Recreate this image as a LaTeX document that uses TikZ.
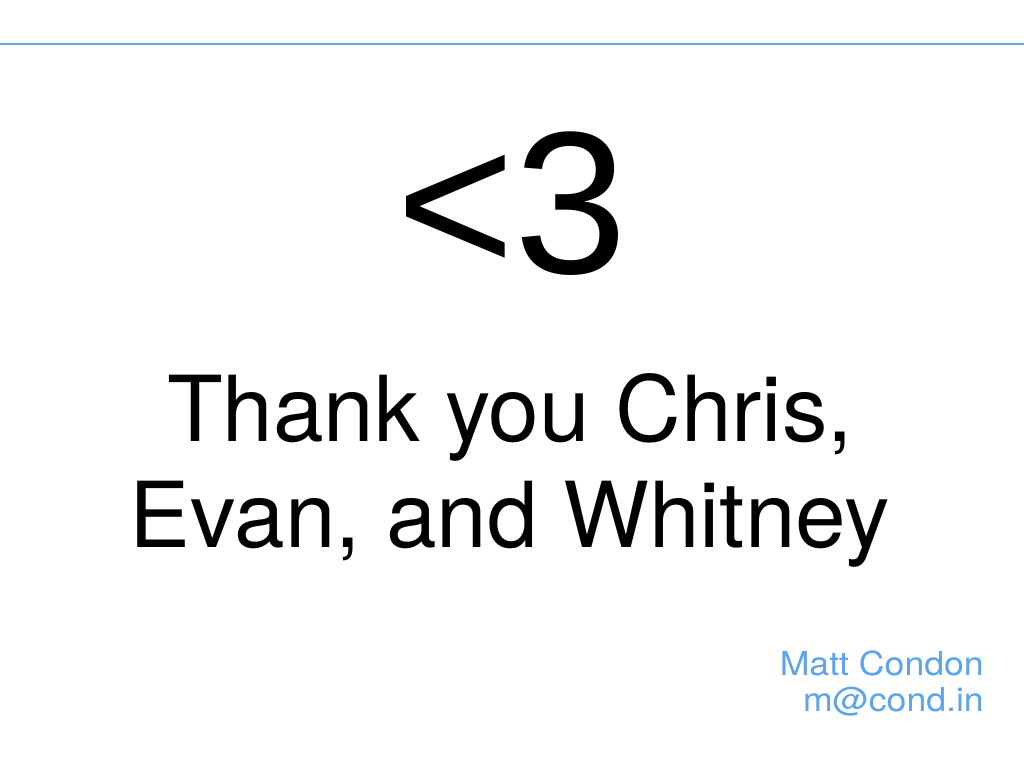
\documentclass[tikz,border=0pt]{standalone}
\usepackage{fontspec}
\setmainfont{TeX Gyre Heros}
\newfontfamily\heartfont{Liberation Sans}
\newfontfamily\sigfont[FakeStretch=1.08]{TeX Gyre Heros}
\definecolor{rulecol}{RGB}{106,166,216}
\definecolor{sigblue}{RGB}{92,164,236}
\begin{document}
\begin{tikzpicture}[x=1pt,y=1pt,
  bigtext/.style={inner sep=0pt,anchor=base,font=\heartfont\fontsize{203}{203}\selectfont},
  thanks/.style={inner sep=0pt,anchor=base,font=\fontsize{91}{91}\selectfont},
  sig/.style={inner sep=0pt,anchor=base east,text=sigblue,font=\sigfont\fontsize{33}{33}\selectfont}]
\useasboundingbox[fill=white] (0,0) rectangle (1024,768);
\coordinate (rl) at (0,724);
\coordinate (rr) at (1024,724);
\draw[rulecol,line width=1.5pt] (rl) -- (rr);
\node[bigtext] (heart) at (512,494) {<3};
\node[thanks] (t1) at (510,326) {Thank you Chris,};
\node[thanks] (t2) at (510,220) {Evan, and Whitney};
\node[sig] (name) at (984,93) {Matt Condon};
\node[sig] (mail) at (984,57) {m@cond.in};
\end{tikzpicture}
\end{document}
